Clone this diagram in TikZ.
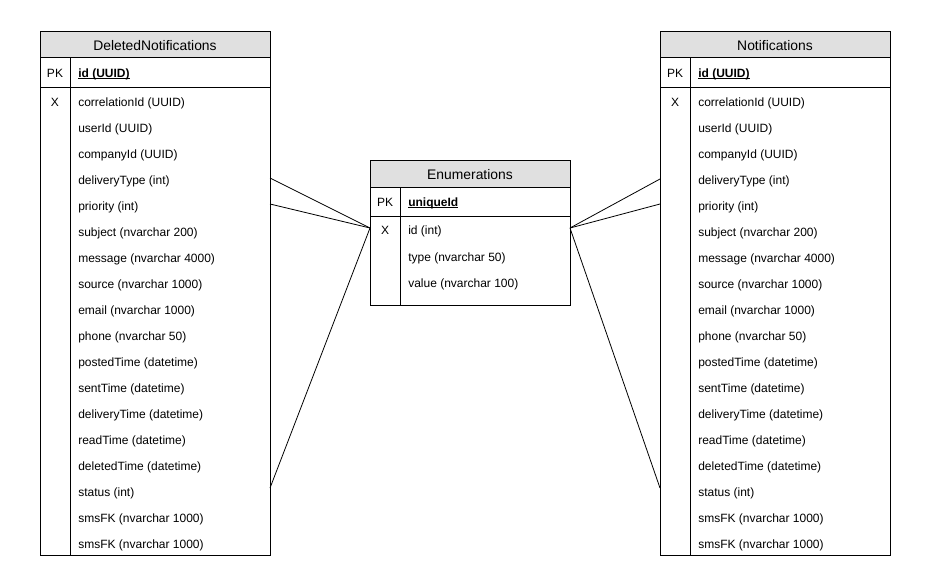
\documentclass[tikz,border=0pt]{standalone}
\usepackage{fontspec}
\setmainfont{Liberation Sans}
\definecolor{hdr}{HTML}{E0E0E0}
\newcommand{\keyul}[1]{\setbox0\hbox{#1}\rlap{\rule[-1.2pt]{\wd0}{0.6pt}}\box0}
\tikzset{
  frame/.style={draw=black, line width=0.75pt},
  hdrbox/.style={frame, fill=hdr},
  txt/.style={anchor=mid west, inner sep=0pt, yshift=-1.2pt, font=\fontsize{9}{10}\selectfont},
  keytxt/.style={anchor=mid, inner sep=0pt, yshift=-1.2pt, font=\fontsize{9}{10}\selectfont},
  ttl/.style={anchor=mid, inner sep=0pt, yshift=-1.4pt, font=\fontsize{10.4}{12}\selectfont},
  link/.style={draw=black, line width=0.6pt}
}
\newcommand{\notiftable}[3]{% #1 x offset, #2 title, #3 prefix
  \draw[hdrbox] (#1+40,32) rectangle (#1+270,58);
  \node[ttl] (#3title) at (#1+155,45) {#2};
  \draw[frame] (#1+40,58) rectangle (#1+270,555);
  \draw[frame] (#1+40,88) -- (#1+270,88);
  \draw[frame] (#1+70,58) -- (#1+70,555);
  \node[keytxt] (#3pk) at (#1+55,72) {PK};
  \node[txt] (#3id) at (#1+78,72) {\keyul{\textbf{id (UUID)}}};
  \node[keytxt] (#3x) at (#1+55,101) {X};
  \foreach \lbl [count=\i] in {correlationId (UUID), userId (UUID), companyId (UUID),
     deliveryType (int), priority (int), subject (nvarchar 200), message (nvarchar 4000),
     source (nvarchar 1000), email (nvarchar 1000), phone (nvarchar 50),
     postedTime (datetime), sentTime (datetime), deliveryTime (datetime),
     readTime (datetime), deletedTime (datetime), status (int),
     smsFK (nvarchar 1000), smsFK (nvarchar 1000)}{
    \node[txt] (#3r\i) at (#1+78,{101+26*(\i-1)}) {\lbl};
  }
}
\begin{document}
\begin{tikzpicture}[x=0.75pt,y=-0.75pt]
\useasboundingbox (0,0) rectangle (931,581);
\fill[white] (0,0) rectangle (931,581);

\notiftable{0}{DeletedNotifications}{dn}
\notiftable{620}{Notifications}{nt}

% Enumerations
\draw[hdrbox] (370,161) rectangle (570,187);
\node[ttl] (enT) at (470,174) {Enumerations};
\draw[frame] (370,187) rectangle (570,305);
\draw[frame] (370,216) -- (570,216);
\draw[frame] (400,187) -- (400,305);
\node[keytxt] (enpk) at (385,201) {PK};
\node[txt] (enuid) at (408,201) {\keyul{\textbf{uniqueId}}};
\node[keytxt] (enx) at (385,229) {X};
\node[txt] (en1) at (408,229) {id (int)};
\node[txt] (en2) at (408,256) {type (nvarchar 50)};
\node[txt] (en3) at (408,282) {value (nvarchar 100)};

% connector endpoints
\coordinate (enL) at (370,228);
\coordinate (enR) at (570,228);
\coordinate (dnA) at (270,178);
\coordinate (dnB) at (270,204);
\coordinate (dnC) at (270,488);
\coordinate (ntA) at (660,179);
\coordinate (ntB) at (660,204);
\coordinate (ntC) at (660,488);

\draw[link] (dnA) -- (enL);
\draw[link] (dnB) -- (enL);
\draw[link] (dnC) -- (enL);
\draw[link] (ntA) -- (enR);
\draw[link] (ntB) -- (enR);
\draw[link] (ntC) -- (enR);
\end{tikzpicture}
\end{document}
